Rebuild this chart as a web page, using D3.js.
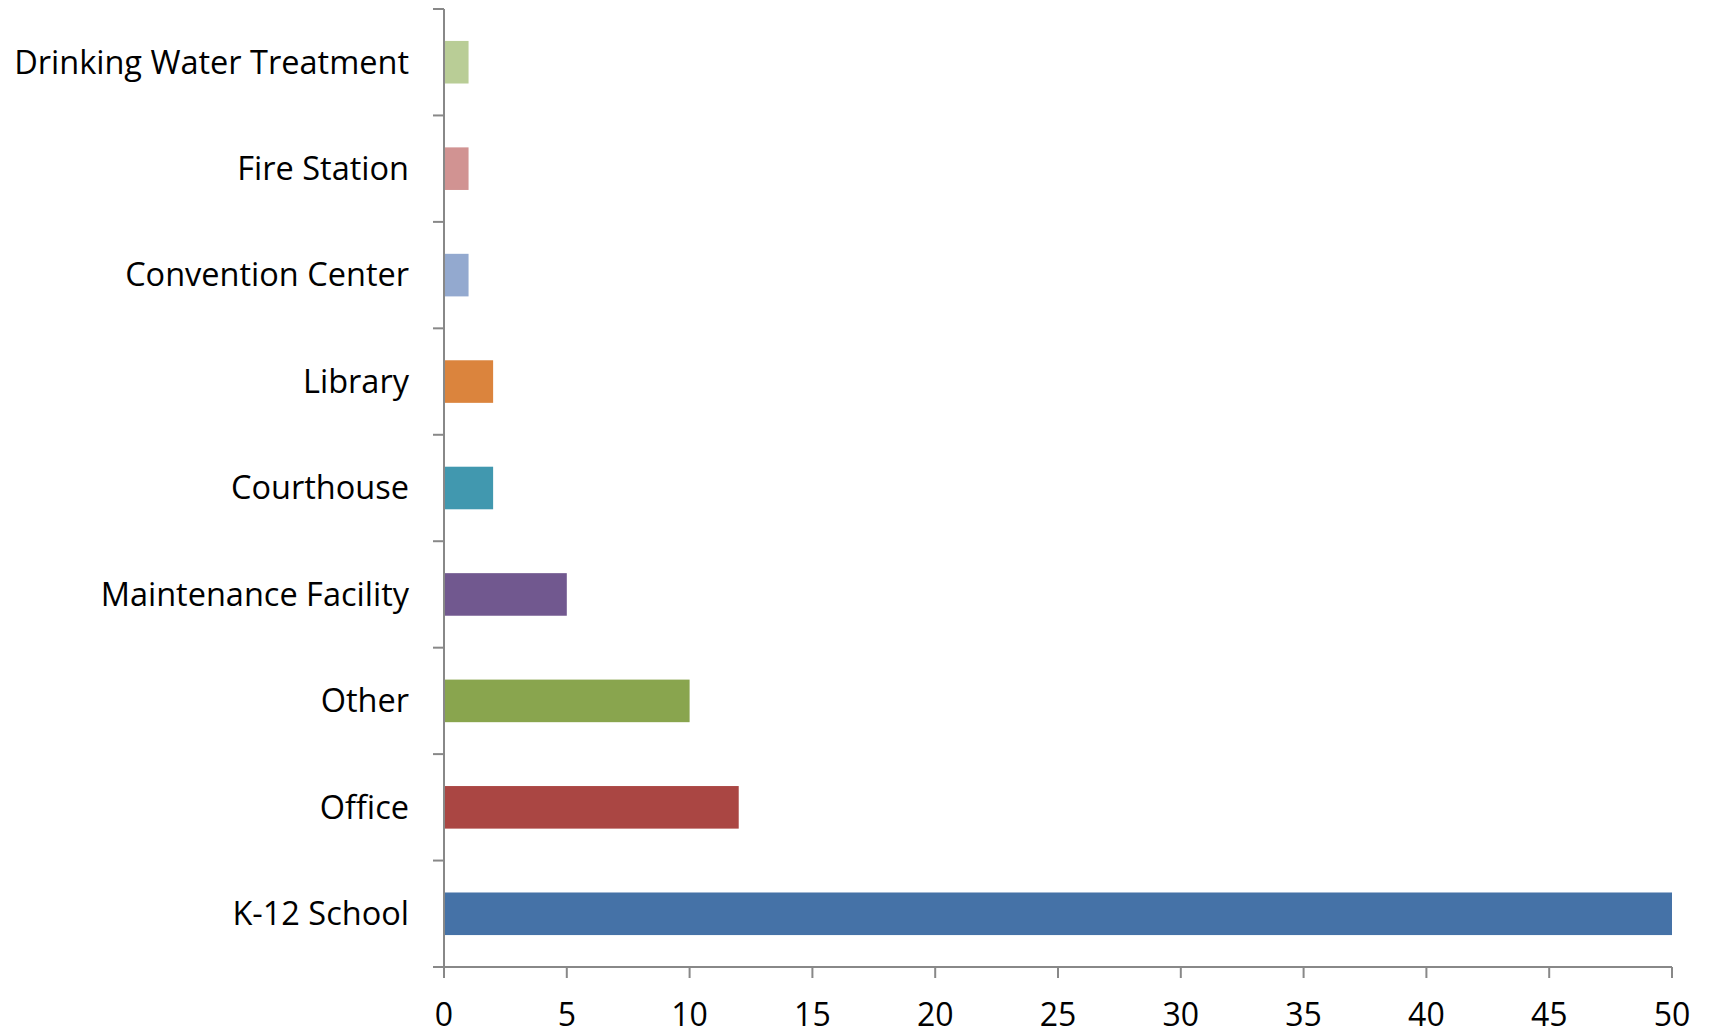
<!DOCTYPE html>
<html><head><meta charset="utf-8">
<script src="https://cdn.jsdelivr.net/npm/d3@7"></script>
<style>
html,body{margin:0;padding:0;background:#fff;}
text{font-family:"Open Sans","Noto Sans",sans-serif;fill:#000;}
</style></head>
<body><svg id="chart" width="1709" height="1032"></svg>
<script>
const categories = ["K-12 School","Office","Other","Maintenance Facility","Courthouse","Library","Convention Center","Fire Station","Drinking Water Treatment"];
const values = [50,12,10,5,2,2,1,1,1];
const colors = ["#4572A7","#AA4643","#89A54E","#71588F","#4198AF","#DB843D","#93A9CF","#D19392","#B9CD96"];
const xTicks = [0,5,10,15,20,25,30,35,40,45,50];

(function(){
const svg = d3.select("#chart");
const mLeft = 444, mRight = 1672, mTop = 9, mBottom = 967;
const x = d3.scaleLinear().domain([0,50]).range([mLeft,mRight]);
const y = d3.scaleBand().domain(categories.slice().reverse()).range([mTop,mBottom]).paddingInner(0.6).paddingOuter(0.3);
const band = d3.scaleBand().domain(categories.slice().reverse()).range([mTop,mBottom]);

const axisColor = "#888888";

svg.append("g").selectAll("rect").data(categories).join("rect")
  .attr("x", x(0))
  .attr("y", d => y(d))
  .attr("width", (d,i) => x(values[i]) - x(0))
  .attr("height", y.bandwidth())
  .attr("fill", (d,i) => colors[i]);

const yg = svg.append("g");
const boundaries = categories.map(c => band(c)).concat([mBottom]);
yg.append("line").attr("x1",mLeft).attr("x2",mLeft).attr("y1",mTop).attr("y2",mBottom)
  .attr("stroke",axisColor).attr("stroke-width",2);
yg.selectAll("line.t").data(boundaries).join("line").attr("class","t")
  .attr("x1",mLeft-11).attr("x2",mLeft).attr("y1",d=>d).attr("y2",d=>d)
  .attr("stroke",axisColor).attr("stroke-width",2);
yg.selectAll("text").data(categories).join("text")
  .attr("x", mLeft-35)
  .attr("y", d => band(d) + band.bandwidth()/2)
  .attr("dy","0.35em")
  .attr("text-anchor","end")
  .attr("font-size", 32.5)
  .text(d => d);

const xg = svg.append("g");
xg.append("line").attr("x1",mLeft).attr("x2",mRight).attr("y1",mBottom).attr("y2",mBottom)
  .attr("stroke",axisColor).attr("stroke-width",2);
xg.selectAll("line.t").data(xTicks).join("line").attr("class","t")
  .attr("x1",d=>x(d)).attr("x2",d=>x(d)).attr("y1",mBottom).attr("y2",mBottom+11)
  .attr("stroke",axisColor).attr("stroke-width",2);
xg.selectAll("text").data(xTicks).join("text")
  .attr("x", d => x(d))
  .attr("y", 1026)
  .attr("text-anchor","middle")
  .attr("font-size", 32)
  .text(d => d);
})();
</script></body></html>
